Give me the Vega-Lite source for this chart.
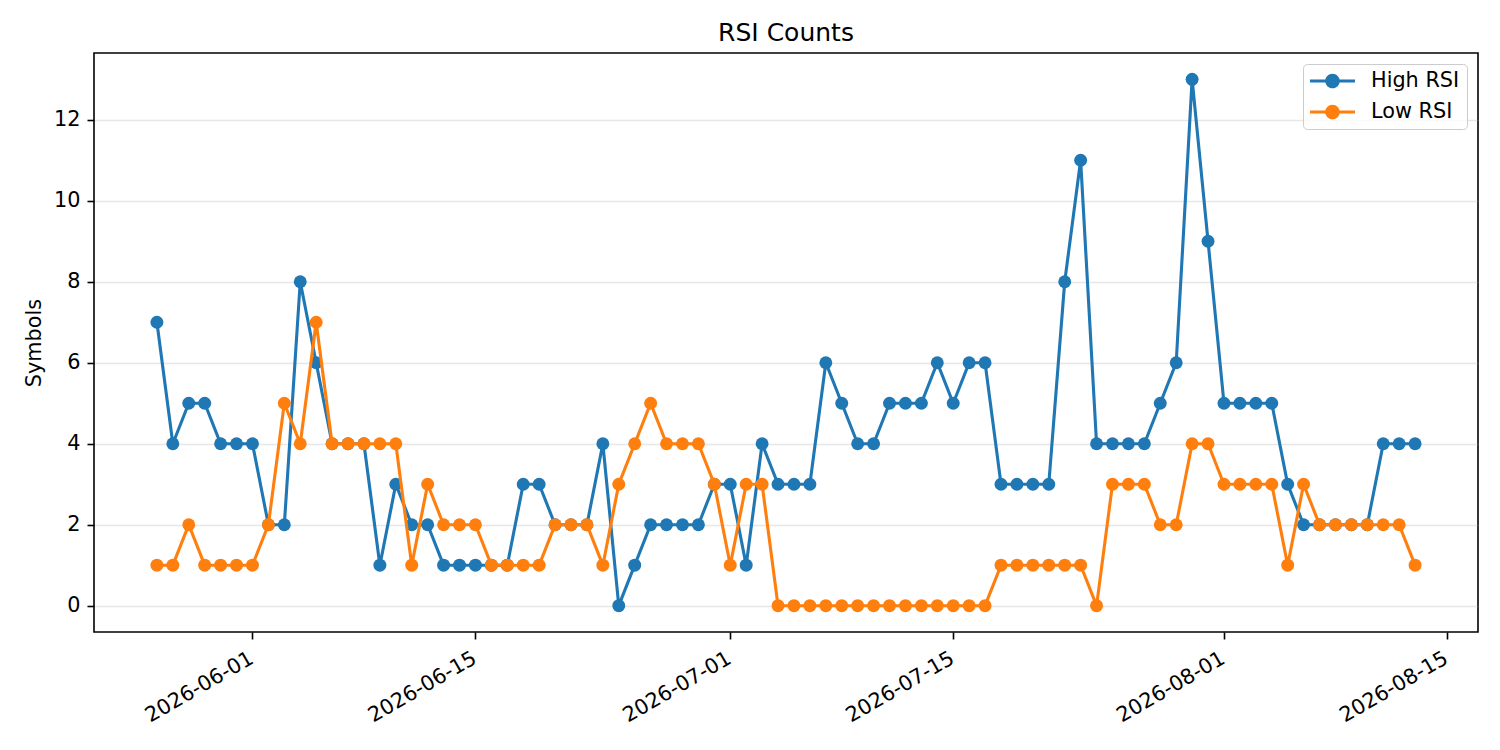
{
  "$schema": "https://vega.github.io/schema/vega-lite/v6.json",
  "width": 1384,
  "height": 579,
  "autosize": {"type": "none"},
  "padding": {"left": 94, "top": 53, "right": 22, "bottom": 118},
  "background": "white",
  "title": {
    "text": "RSI Counts",
    "fontSize": 25,
    "fontWeight": "normal",
    "color": "black",
    "anchor": "middle",
    "offset": 7
  },
  "data": {
    "values": [
      {"date": "2026-05-26", "High RSI": 7, "Low RSI": 1},
      {"date": "2026-05-27", "High RSI": 4, "Low RSI": 1},
      {"date": "2026-05-28", "High RSI": 5, "Low RSI": 2},
      {"date": "2026-05-29", "High RSI": 5, "Low RSI": 1},
      {"date": "2026-05-30", "High RSI": 4, "Low RSI": 1},
      {"date": "2026-05-31", "High RSI": 4, "Low RSI": 1},
      {"date": "2026-06-01", "High RSI": 4, "Low RSI": 1},
      {"date": "2026-06-02", "High RSI": 2, "Low RSI": 2},
      {"date": "2026-06-03", "High RSI": 2, "Low RSI": 5},
      {"date": "2026-06-04", "High RSI": 8, "Low RSI": 4},
      {"date": "2026-06-05", "High RSI": 6, "Low RSI": 7},
      {"date": "2026-06-06", "High RSI": 4, "Low RSI": 4},
      {"date": "2026-06-07", "High RSI": 4, "Low RSI": 4},
      {"date": "2026-06-08", "High RSI": 4, "Low RSI": 4},
      {"date": "2026-06-09", "High RSI": 1, "Low RSI": 4},
      {"date": "2026-06-10", "High RSI": 3, "Low RSI": 4},
      {"date": "2026-06-11", "High RSI": 2, "Low RSI": 1},
      {"date": "2026-06-12", "High RSI": 2, "Low RSI": 3},
      {"date": "2026-06-13", "High RSI": 1, "Low RSI": 2},
      {"date": "2026-06-14", "High RSI": 1, "Low RSI": 2},
      {"date": "2026-06-15", "High RSI": 1, "Low RSI": 2},
      {"date": "2026-06-16", "High RSI": 1, "Low RSI": 1},
      {"date": "2026-06-17", "High RSI": 1, "Low RSI": 1},
      {"date": "2026-06-18", "High RSI": 3, "Low RSI": 1},
      {"date": "2026-06-19", "High RSI": 3, "Low RSI": 1},
      {"date": "2026-06-20", "High RSI": 2, "Low RSI": 2},
      {"date": "2026-06-21", "High RSI": 2, "Low RSI": 2},
      {"date": "2026-06-22", "High RSI": 2, "Low RSI": 2},
      {"date": "2026-06-23", "High RSI": 4, "Low RSI": 1},
      {"date": "2026-06-24", "High RSI": 0, "Low RSI": 3},
      {"date": "2026-06-25", "High RSI": 1, "Low RSI": 4},
      {"date": "2026-06-26", "High RSI": 2, "Low RSI": 5},
      {"date": "2026-06-27", "High RSI": 2, "Low RSI": 4},
      {"date": "2026-06-28", "High RSI": 2, "Low RSI": 4},
      {"date": "2026-06-29", "High RSI": 2, "Low RSI": 4},
      {"date": "2026-06-30", "High RSI": 3, "Low RSI": 3},
      {"date": "2026-07-01", "High RSI": 3, "Low RSI": 1},
      {"date": "2026-07-02", "High RSI": 1, "Low RSI": 3},
      {"date": "2026-07-03", "High RSI": 4, "Low RSI": 3},
      {"date": "2026-07-04", "High RSI": 3, "Low RSI": 0},
      {"date": "2026-07-05", "High RSI": 3, "Low RSI": 0},
      {"date": "2026-07-06", "High RSI": 3, "Low RSI": 0},
      {"date": "2026-07-07", "High RSI": 6, "Low RSI": 0},
      {"date": "2026-07-08", "High RSI": 5, "Low RSI": 0},
      {"date": "2026-07-09", "High RSI": 4, "Low RSI": 0},
      {"date": "2026-07-10", "High RSI": 4, "Low RSI": 0},
      {"date": "2026-07-11", "High RSI": 5, "Low RSI": 0},
      {"date": "2026-07-12", "High RSI": 5, "Low RSI": 0},
      {"date": "2026-07-13", "High RSI": 5, "Low RSI": 0},
      {"date": "2026-07-14", "High RSI": 6, "Low RSI": 0},
      {"date": "2026-07-15", "High RSI": 5, "Low RSI": 0},
      {"date": "2026-07-16", "High RSI": 6, "Low RSI": 0},
      {"date": "2026-07-17", "High RSI": 6, "Low RSI": 0},
      {"date": "2026-07-18", "High RSI": 3, "Low RSI": 1},
      {"date": "2026-07-19", "High RSI": 3, "Low RSI": 1},
      {"date": "2026-07-20", "High RSI": 3, "Low RSI": 1},
      {"date": "2026-07-21", "High RSI": 3, "Low RSI": 1},
      {"date": "2026-07-22", "High RSI": 8, "Low RSI": 1},
      {"date": "2026-07-23", "High RSI": 11, "Low RSI": 1},
      {"date": "2026-07-24", "High RSI": 4, "Low RSI": 0},
      {"date": "2026-07-25", "High RSI": 4, "Low RSI": 3},
      {"date": "2026-07-26", "High RSI": 4, "Low RSI": 3},
      {"date": "2026-07-27", "High RSI": 4, "Low RSI": 3},
      {"date": "2026-07-28", "High RSI": 5, "Low RSI": 2},
      {"date": "2026-07-29", "High RSI": 6, "Low RSI": 2},
      {"date": "2026-07-30", "High RSI": 13, "Low RSI": 4},
      {"date": "2026-07-31", "High RSI": 9, "Low RSI": 4},
      {"date": "2026-08-01", "High RSI": 5, "Low RSI": 3},
      {"date": "2026-08-02", "High RSI": 5, "Low RSI": 3},
      {"date": "2026-08-03", "High RSI": 5, "Low RSI": 3},
      {"date": "2026-08-04", "High RSI": 5, "Low RSI": 3},
      {"date": "2026-08-05", "High RSI": 3, "Low RSI": 1},
      {"date": "2026-08-06", "High RSI": 2, "Low RSI": 3},
      {"date": "2026-08-07", "High RSI": 2, "Low RSI": 2},
      {"date": "2026-08-08", "High RSI": 2, "Low RSI": 2},
      {"date": "2026-08-09", "High RSI": 2, "Low RSI": 2},
      {"date": "2026-08-10", "High RSI": 2, "Low RSI": 2},
      {"date": "2026-08-11", "High RSI": 4, "Low RSI": 2},
      {"date": "2026-08-12", "High RSI": 4, "Low RSI": 2},
      {"date": "2026-08-13", "High RSI": 4, "Low RSI": 1}
    ]
  },
  "transform": [
    {"fold": ["High RSI", "Low RSI"], "as": ["series", "count"]}
  ],
  "encoding": {
    "x": {
      "field": "date",
      "type": "temporal",
      "scale": {
        "type": "utc",
        "domain": [
          {"year": 2026, "month": 5, "date": 22, "hours": 1, "minutes": 12, "utc": true},
          {"year": 2026, "month": 8, "date": 16, "hours": 22, "minutes": 48, "utc": true}
        ]
      },
      "axis": {
        "title": null,
        "grid": false,
        "values": [
          {"year": 2026, "month": 6, "date": 1, "utc": true},
          {"year": 2026, "month": 6, "date": 15, "utc": true},
          {"year": 2026, "month": 7, "date": 1, "utc": true},
          {"year": 2026, "month": 7, "date": 15, "utc": true},
          {"year": 2026, "month": 8, "date": 1, "utc": true},
          {"year": 2026, "month": 8, "date": 15, "utc": true}
        ],
        "labelExpr": "utcFormat(datum.value, '%Y-%m-%d')",
        "labelAngle": -30,
        "labelAlign": "right",
        "labelBaseline": "top",
        "labelPadding": 9,
        "labelOffset": -6,
        "labelOverlap": false,
        "labelBound": false
      }
    },
    "y": {
      "field": "count",
      "type": "quantitative",
      "scale": {"domain": [-0.65, 13.65], "nice": false, "zero": false},
      "axis": {
        "title": "Symbols",
        "values": [0, 2, 4, 6, 8, 10, 12],
        "grid": true,
        "gridColor": "#b0b0b0",
        "gridOpacity": 0.3,
        "gridWidth": 1.6,
        "titlePadding": 9
      }
    },
    "color": {
      "field": "series",
      "type": "nominal",
      "scale": {"domain": ["High RSI", "Low RSI"], "range": ["#1f77b4", "#ff7f0e"]},
      "legend": {
        "title": null,
        "orient": "top-right",
        "offset": 11,
        "fillColor": "rgba(255,255,255,0.8)",
        "strokeColor": "#cccccc",
        "cornerRadius": 4,
        "padding": 7,
        "labelFontSize": 20.8,
        "labelColor": "black",
        "labelOffset": 16,
        "rowPadding": 10,
        "clipHeight": 20,
        "symbolType": "M-1,-0.069H1V0.069H-1Z M-0.324,0A0.324,0.324,0,1,1,0.324,0A0.324,0.324,0,1,1,-0.324,0Z",
        "symbolSize": 2025,
        "symbolStrokeWidth": 0,
        "encode": {
          "symbols": {
            "update": {
              "fill": {"scale": "color", "field": "value"},
              "stroke": {"value": "transparent"},
              "strokeWidth": {"value": 0},
              "opacity": {"value": 1}
            }
          }
        }
      }
    }
  },
  "layer": [
    {
      "transform": [{"filter": "datum.series === 'High RSI'"}],
      "mark": {"type": "line", "strokeWidth": 3.1}
    },
    {
      "transform": [{"filter": "datum.series === 'High RSI'"}],
      "mark": {"type": "point", "shape": "circle", "filled": true, "size": 167, "opacity": 1, "strokeWidth": 0}
    },
    {
      "transform": [{"filter": "datum.series === 'Low RSI'"}],
      "mark": {"type": "line", "strokeWidth": 3.1}
    },
    {
      "transform": [{"filter": "datum.series === 'Low RSI'"}],
      "mark": {"type": "point", "shape": "circle", "filled": true, "size": 167, "opacity": 1, "strokeWidth": 0}
    }
  ],
  "config": {
    "font": "DejaVu Sans",
    "view": {"stroke": "black", "strokeWidth": 1.6},
    "axis": {
      "domain": false,
      "tickColor": "black",
      "tickWidth": 1.6,
      "tickSize": 7,
      "labelColor": "black",
      "labelFontSize": 20.8,
      "labelPadding": 7,
      "titleColor": "black",
      "titleFontSize": 20.8,
      "titleFontWeight": "normal"
    }
  }
}
